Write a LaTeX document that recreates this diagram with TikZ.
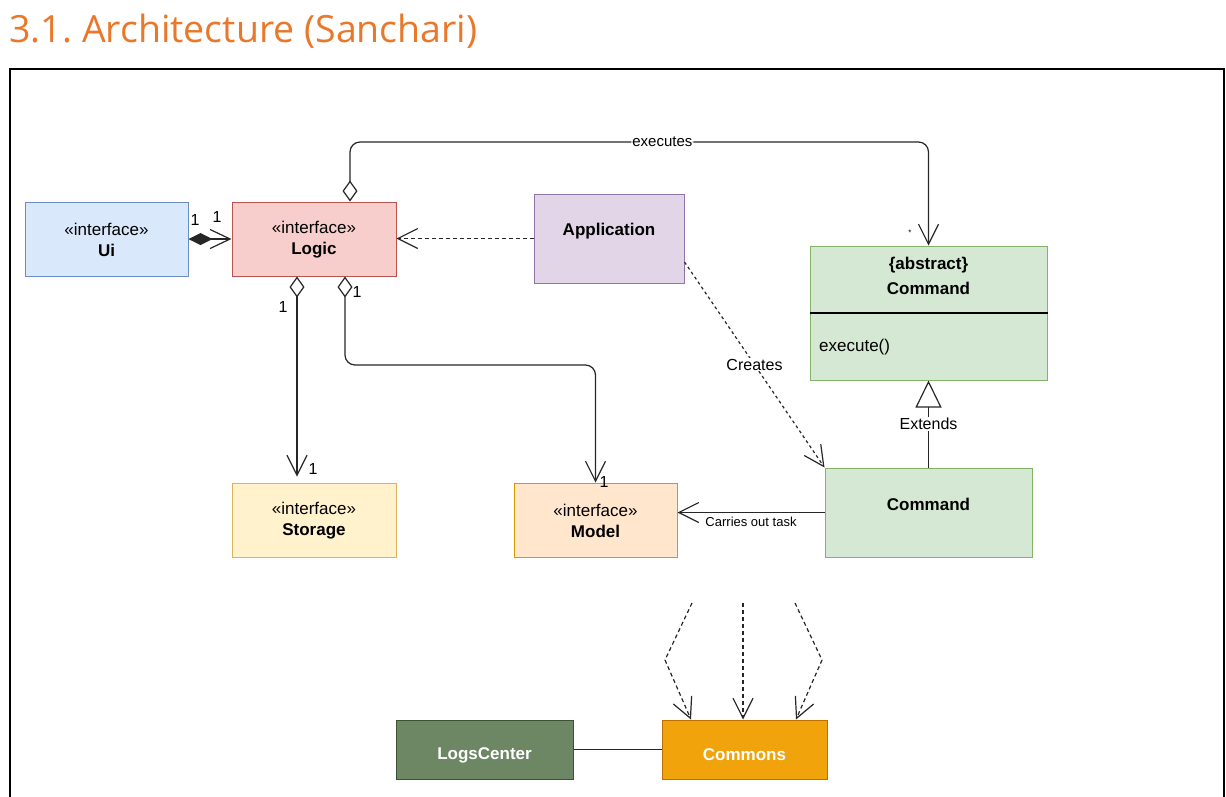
\documentclass[tikz,border=0pt]{standalone}
\usepackage{fontspec}
\setmainfont{Liberation Sans}
\newfontfamily\titlefont{Open Sans}
\usetikzlibrary{arrows.meta}
\definecolor{titleorange}{RGB}{233,120,42}
\definecolor{uifill}{HTML}{DAE8FC}\definecolor{uidraw}{HTML}{6C8EBF}
\definecolor{logicfill}{HTML}{F8CECC}\definecolor{logicdraw}{HTML}{B85450}
\definecolor{appfill}{HTML}{E1D5E7}\definecolor{appdraw}{HTML}{9673A6}
\definecolor{cmdfill}{HTML}{D5E8D4}\definecolor{cmddraw}{HTML}{82B366}
\definecolor{stfill}{HTML}{FFF2CC}\definecolor{stdraw}{HTML}{D6B656}
\definecolor{modfill}{HTML}{FFE6CC}\definecolor{moddraw}{HTML}{D79B00}
\definecolor{logsfill}{HTML}{6D8764}\definecolor{logsdraw}{HTML}{3A5431}
\definecolor{comfill}{HTML}{F0A30A}\definecolor{comdraw}{HTML}{BD7000}
\begin{document}
\begin{tikzpicture}[x=1pt,y=-1pt,
  box/.style={draw, line width=1pt, inner sep=0pt},
  txt/.style={inner sep=0pt, align=center, font=\fontsize{17}{21}\selectfont},
  lbl/.style={font=\fontsize{16}{18}\selectfont, inner sep=1pt},
  bglbl/.style={lbl, fill=white},
  conn/.style={line width=1.2pt, draw=black!85},
  barb/.style={-{Straight Barb[length=20pt,width=20pt]}},
  agg/.style={{Diamond[fill=white,length=21pt,width=15pt]}-{Straight Barb[length=20pt,width=20pt]}},
  dsh/.style={dash pattern=on 4pt off 3pt}
]
\useasboundingbox (0,0) rectangle (1226,796);
\clip (0,0) rectangle (1226,796);
% title
\node[anchor=base west, inner sep=0pt, text=titleorange, font=\titlefont\fontsize{37.5}{40}\selectfont] (title) at (9,42) {3.1.\kern-3pt{} Architecture (Sanchari)};
% frame
\draw[line width=1.8pt] (1224,820) -- (1224,69) -- (10,69) -- (10,820);

% nodes
\node[box, fill=uifill, draw=uidraw, minimum width=163pt, minimum height=74pt] (ui) at (106.5,239) {};
\node[txt] (uitext) at (106.5,239.5) {«interface»\\\textbf{Ui}};
\node[box, fill=logicfill, draw=logicdraw, minimum width=164pt, minimum height=74pt] (logic) at (314,239) {};
\node[txt] (logictext) at (314,239.5) {«interface»\\\textbf{Logic}};
\node[box, fill=appfill, draw=appdraw, minimum width=150pt, minimum height=89pt] (app) at (609,238.5) {};
\node[txt] (apptext) at (609,231.5) {\textbf{Application}};
\node[box, fill=cmdfill, draw=cmddraw, minimum width=237pt, minimum height=134pt] (cmdabs) at (928.5,313) {};
\draw[line width=1.2pt] (cmdabs.west) -- (cmdabs.east);
\node[txt] (abstxt) at (928.5,275.5) {\textbf{\{abstract\}}\\[4pt]\textbf{Command}};
\node[txt, anchor=west] (exectxt) at (819,347) {execute()};
\node[box, fill=stfill, draw=stdraw, minimum width=164pt, minimum height=74pt] (storage) at (314,520) {};
\node[txt] (sttext) at (314,520.5) {«interface»\\\textbf{Storage}};
\node[box, fill=modfill, draw=moddraw, minimum width=163pt, minimum height=74pt] (model) at (595.5,520) {};
\node[txt] (modtext) at (595.5,520.5) {«interface»\\\textbf{Model}};
\node[box, fill=cmdfill, draw=cmddraw, minimum width=207pt, minimum height=89pt] (cmd) at (928.5,512.5) {};
\node[txt] (cmdtext) at (928.5,504) {\textbf{Command}};
\node[box, fill=logsfill, draw=logsdraw, minimum width=177pt, minimum height=59pt] (logs) at (484.5,749.5) {};
\node[txt, text=white] (logstext) at (484.5,755) {\textbf{LogsCenter}};
\node[box, fill=comfill, draw=comdraw, minimum width=165pt, minimum height=59pt] (commons) at (744.5,749.5) {};
\node[txt, text=white] (comtext) at (744.5,755) {\textbf{Commons}};

% connectors
\draw[conn, {Diamond[length=24pt,width=12pt]}-{Straight Barb[length=20pt,width=19pt]}] (ui.east) -- (logic.west);
\node[lbl] (m1) at (195,220) {1};
\node[lbl] (m2) at (217,217) {1};

\draw[conn, dsh, barb] (app.west) -- (app.west -| logic.east);

\coordinate (exy) at (0,142);
\draw[conn, agg, rounded corners=10pt] ([xshift=36pt]logic.north) -- ([xshift=36pt]logic.north |- exy)
  -- node[bglbl, pos=0.54, font=\fontsize{15}{17}\selectfont] (exlbl) {executes} (cmdabs.north |- exy) -- (cmdabs.north);
\node[font=\fontsize{8}{8}\selectfont, inner sep=0pt] (star) at (910,233) {*};

\draw[conn, agg] ([xshift=-17pt]logic.south) -- ([xshift=-17pt,yshift=6pt]storage.north);
\node[lbl] (m3) at (283,307) {1};
\node[lbl] (m4) at (313,469) {1};

\coordinate (mdy) at (0,365);
\draw[conn, agg, rounded corners=10pt] ([xshift=31pt]logic.south) -- ([xshift=31pt]logic.south |- mdy) -- (model.north |- mdy) -- (model.north);
\node[lbl] (m5) at (357,292) {1};
\node[lbl] (m6) at (604,482) {1};

\draw[conn, -{Triangle[open,fill=white,length=27pt,width=26pt]}] (cmd.north) -- node[bglbl, pos=0.5] (extlbl) {Extends} (cmdabs.south);

\draw[conn, barb] (cmd.west) -- (cmd.west -| model.east);
\node[font=\fontsize{13}{15}\selectfont, inner sep=0pt] (carlbl) at (751,522) {Carries out task};

\draw[conn, dash pattern=on 3pt off 3pt, barb] ([yshift=-23.5pt]app.east) -- node[bglbl, pos=0.5] (crlbl) {Creates} (cmd.north west);

% dependencies into Commons
\coordinate (s1) at (692,603);
\coordinate (k1) at (665,660);
\coordinate (s2) at (743,603);
\coordinate (s3) at (795,603);
\coordinate (k3) at (822,660);
\draw[conn, dsh, barb] (s1) -- (k1) -- ([xshift=-53.5pt]commons.north);
\draw[conn, dsh, barb] (s2) -- ([xshift=-1.5pt]commons.north);
\draw[conn, dsh, barb] (s3) -- (k3) -- ([xshift=51.5pt]commons.north);

\draw[conn] (logs.east) -- (commons.west);
\end{tikzpicture}
\end{document}
